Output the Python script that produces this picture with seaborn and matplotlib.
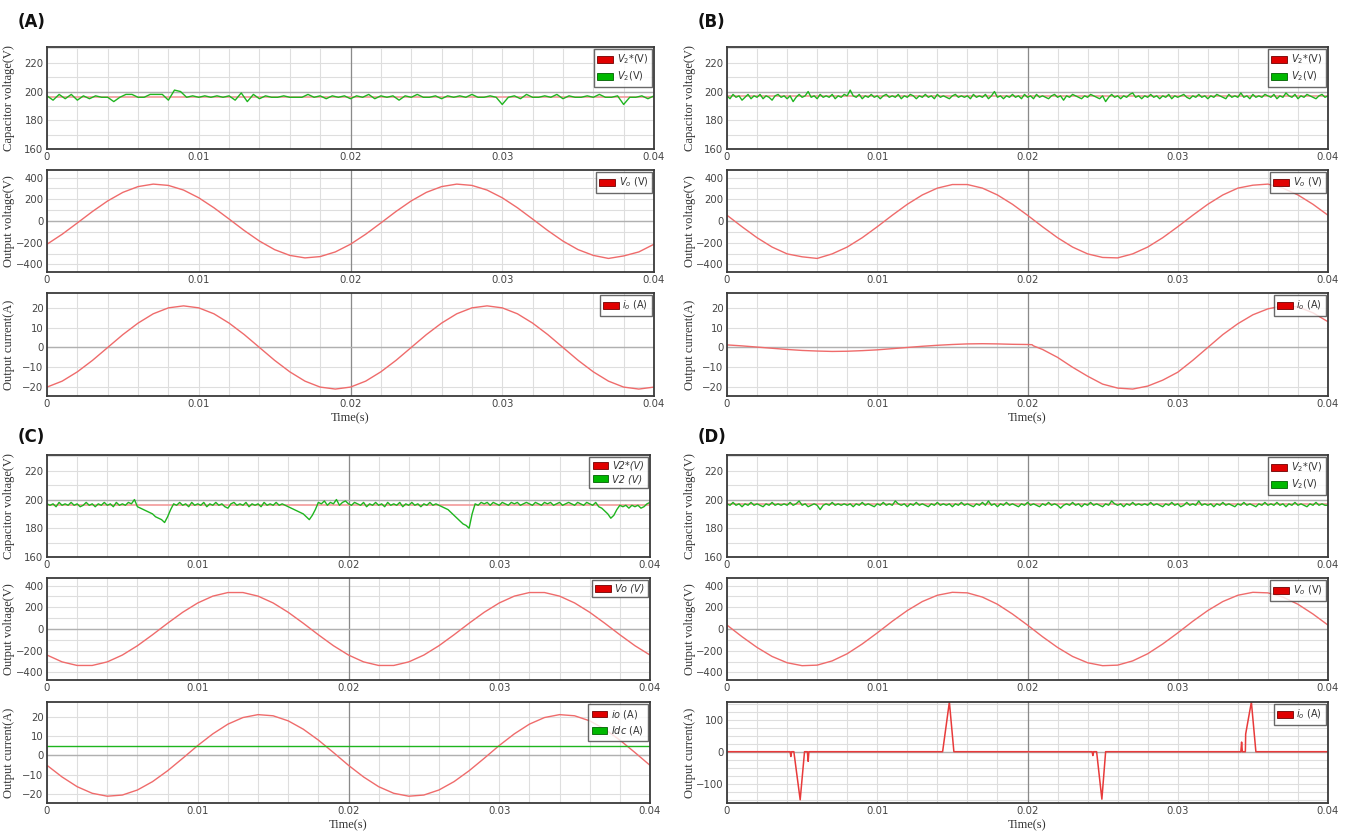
import numpy as np
import pandas as pd
import matplotlib
matplotlib.use("Agg")
import matplotlib.pyplot as plt
import seaborn as sns
from matplotlib.patches import Patch
from matplotlib.ticker import MultipleLocator

sns.set_theme(style="white")
plt.rcParams['font.family'] = ['DejaVu Sans']
plt.rcParams['axes.unicode_minus'] = True

# ---------------- data ----------------
# time grids (s)
T_1MS = np.linspace(0, 0.04, 41)      # 1 ms sampling
T_04MS = np.linspace(0, 0.04, 101)    # 0.4 ms sampling
T_02MS = np.linspace(0, 0.04, 201)    # 0.2 ms sampling
T_REF = [0.0, 0.04]

# (A)
A_V2_REF = [196, 196]
A_V2 = [197, 194, 198, 195, 198, 194, 197, 195, 197, 196,
        196, 193, 196, 198, 198, 196, 196, 198, 198, 198,
        194, 201, 200, 196, 197, 196, 197, 196, 197, 196,
        197, 194, 199, 193, 198, 195, 197, 196, 196, 197,
        196, 196, 196, 198, 196, 197, 195, 197, 196, 197,
        195, 197, 196, 198, 195, 197, 196, 197, 194, 197,
        196, 198, 196, 196, 197, 195, 197, 196, 197, 196,
        198, 196, 196, 197, 196, 191, 196, 197, 195, 198,
        196, 196, 197, 196, 198, 195, 197, 196, 196, 197,
        196, 198, 196, 196, 197, 191, 196, 196, 197, 195, 197]
A_VO = [-214, -122, -18, 88, 185, 264, 317, 340, 328, 285, 214, 122, 18, -88, -185, -264, -317, -340, -328, -285,
        -214, -122, -18, 88, 185, 264, 317, 340, 328, 285, 214, 122, 18, -88, -185, -264, -317, -345, -322, -285,
        -214]
A_IO = [-20.0, -17.0, -12.3, -6.5, 0.0, 6.5, 12.3, 17.0, 20.0, 21.0, 20.0, 17.0, 12.3, 6.5, 0.0, -6.5, -12.3, -17.0, -20.0, -21.0,
        -20.0, -17.0, -12.3, -6.5, 0.0, 6.5, 12.3, 17.0, 20.0, 21.0, 20.0, 17.0, 12.3, 6.5, 0.0, -6.5, -12.3, -17.0, -20.0, -21.0,
        -20.0]

# (B)
B_V2_REF = [197, 197]
B_V2 = [197, 195, 198, 196, 197, 194, 196, 198, 195, 197, 196, 198, 195, 197, 196, 194, 197, 198, 196, 197,
        195, 197, 193, 196, 198, 196, 197, 200, 196, 197, 195, 198, 196, 197, 196, 198, 195, 197, 196, 198,
        197, 201, 197, 196, 198, 195, 197, 196, 198, 196, 197, 195, 197, 198, 196, 197, 196, 198, 195, 197,
        196, 198, 197, 195, 197, 196, 198, 196, 197, 195, 198, 196, 197, 196, 195, 197, 198, 196, 197, 196,
        197, 195, 198, 196, 197, 196, 198, 195, 197, 200, 196, 197, 195, 197, 196, 198, 196, 197, 195, 198,
        196, 197, 195, 198, 196, 197, 196, 195, 197, 198, 196, 197, 194, 197, 196, 198, 197, 196, 195, 197,
        196, 198, 197, 196, 195, 197, 193, 196, 198, 196, 197, 195, 197, 196, 198, 199, 196, 197, 195, 197,
        196, 198, 196, 197, 195, 197, 196, 198, 195, 197, 196, 197, 198, 196, 195, 197, 196, 198, 196, 197,
        195, 197, 196, 198, 197, 196, 195, 198, 196, 197, 196, 199, 196, 197, 195, 198, 196, 197, 196, 198,
        197, 196, 198, 195, 197, 196, 199, 197, 196, 198, 195, 197, 196, 198, 197, 196, 195, 197, 198, 196,
        197]
B_VO = [53, -53, -154, -240, -303, -330, -345, -303, -240, -154, -53, 53, 154, 240, 303, 336, 336, 303, 240, 154,
        53, -53, -154, -240, -303, -336, -340, -303, -240, -154, -53, 53, 154, 240, 303, 330, 340, 303, 240, 154,
        53]
B_IO_T = [0.000, 0.001, 0.002, 0.003, 0.004, 0.005, 0.006, 0.007, 0.008, 0.009, 0.010,
          0.011, 0.012, 0.013, 0.014, 0.015, 0.016, 0.017, 0.018, 0.019, 0.020,
          0.0203, 0.0204,
          0.021, 0.022, 0.023, 0.024, 0.025, 0.026, 0.027, 0.028, 0.029, 0.030,
          0.031, 0.032, 0.033, 0.034, 0.035, 0.036, 0.037, 0.038, 0.039, 0.040]
B_IO = [1.3, 0.8, 0.2, -0.4, -1.0, -1.5, -1.8, -2.0, -1.9, -1.6, -1.2,
        -0.6, 0.0, 0.6, 1.1, 1.5, 1.8, 1.9, 1.8, 1.6, 1.5,
        1.4, 0.8,
        -1.0, -5.0, -10.0, -14.5, -18.5, -20.5, -21.0, -19.5, -16.5, -12.5,
        -6.5, 0.0, 6.5, 12.0, 16.5, 19.5, 21.0, 20.5, 17.5, 13.0]

# (C)
C_V2_REF = [196, 196]
C_V2 = [197, 196, 197, 195, 198, 196, 197, 196, 198, 196, 197, 195, 196, 198, 196, 197, 195, 197, 196, 198,
        196, 197, 195, 198, 196, 197, 196, 198, 197, 200, 195, 194, 193, 192, 191, 190, 188, 187, 186, 184,
        188, 193, 197, 196, 198, 196, 197, 195, 198, 196, 197, 196, 198, 195, 197, 196, 198, 196, 197, 195,
        194, 197, 198, 196, 197, 196, 198, 195, 197, 196, 197, 195, 198, 196, 197, 196, 198, 196, 197, 196,
        195, 194, 193, 192, 191, 190, 188, 186, 189, 193, 198, 197, 199, 196, 198, 197, 200, 196, 198, 199,
        197, 196, 198, 197, 196, 198, 195, 197, 196, 198, 196, 197, 195, 198, 196, 197, 196, 198, 195, 197,
        196, 198, 196, 197, 195, 197, 196, 198, 196, 197, 196, 195, 194, 193, 191, 189, 187, 185, 183, 182,
        180, 190, 197, 196, 198, 197, 198, 196, 198, 197, 196, 198, 197, 196, 198, 197, 198, 196, 197, 198,
        197, 196, 198, 197, 196, 198, 197, 198, 196, 197, 198, 196, 197, 198, 197, 196, 198, 197, 196, 198,
        197, 196, 198, 195, 194, 192, 190, 187, 189, 193, 196, 195, 196, 194, 196, 195, 196, 194, 195, 197,
        198]
C_VO = [-240, -303, -336, -336, -303, -240, -154, -53, 53, 154, 240, 303, 336, 336, 303, 240, 154, 53, -53, -154,
        -240, -303, -336, -336, -303, -240, -154, -53, 53, 154, 240, 303, 336, 336, 303, 240, 154, 53, -53, -154,
        -240]
C_IO = [-5.1, -11.1, -16.1, -19.5, -21.0, -20.4, -17.8, -13.5, -7.9, -1.5, 5.1, 11.1, 16.1, 19.5, 21.0, 20.4, 17.8, 13.5, 7.9, 1.5,
        -5.1, -11.1, -16.1, -19.5, -21.0, -20.4, -17.8, -13.5, -7.9, -1.5, 5.1, 11.1, 16.1, 19.5, 21.0, 20.4, 17.8, 13.5, 7.9, 1.5,
        -5.1]
C_IDC = [5.0, 5.0]

# (D)
D_V2_REF = [197, 197]
D_V2 = [197, 196, 198, 196, 197, 195, 197, 196, 198, 196, 197, 196, 195, 197, 196, 198, 196, 197, 196, 197,
        196, 198, 196, 197, 199, 196, 197, 195, 196, 197, 196, 193, 196, 197, 196, 198, 196, 197, 196, 197,
        196, 197, 195, 197, 196, 198, 196, 197, 196, 195, 197, 196, 198, 196, 197, 196, 199, 197, 196, 197,
        195, 197, 196, 198, 196, 197, 196, 195, 197, 196, 198, 196, 197, 196, 197, 195, 197, 196, 198, 196,
        197, 196, 195, 197, 196, 198, 196, 199, 196, 197, 195, 197, 196, 198, 196, 197, 196, 195, 197, 196,
        198, 196, 197, 196, 195, 197, 196, 198, 196, 197, 196, 194, 196, 197, 196, 198, 196, 197, 195, 197,
        196, 198, 196, 197, 196, 195, 197, 196, 199, 197, 196, 197, 195, 197, 196, 198, 196, 197, 196, 197,
        196, 198, 196, 197, 196, 195, 197, 196, 198, 196, 197, 195, 196, 198, 196, 197, 196, 199, 196, 197,
        196, 197, 195, 197, 196, 198, 196, 197, 196, 195, 197, 196, 198, 196, 197, 196, 195, 197, 196, 198,
        196, 197, 196, 198, 196, 197, 195, 197, 196, 198, 196, 197, 196, 195, 197, 196, 198, 196, 197, 196,
        196]
D_VO = [36, -71, -170, -253, -311, -338, -333, -294, -228, -138, -36, 71, 170, 253, 311, 338, 333, 294, 228, 138,
        36, -71, -170, -253, -311, -338, -333, -294, -228, -138, -36, 71, 170, 253, 311, 338, 333, 294, 228, 138,
        36]
D_IO_T = [0.0, 0.0042, 0.00425, 0.0043, 0.00445, 0.00487, 0.00516, 0.00535, 0.0054, 0.00545,
          0.01435, 0.0148, 0.0151,
          0.0243, 0.02435, 0.0244, 0.0246, 0.02495, 0.0252,
          0.0342, 0.03425, 0.0343, 0.0345, 0.03452, 0.0349, 0.0352, 0.04]
D_IO = [0, 0, -15, 0, 0, -150, 0, 0, -30, 0,
        0, 155, 0,
        0, -12, 0, 0, -148, 0,
        0, 30, 0, 0, 55, 155, 0, 0]

XTICKS = [0, 0.01, 0.02, 0.03, 0.04]
XTICK_LABELS = ["0", "0.01", "0.02", "0.03", "0.04"]

# ---------------- styling ----------------
W, H = 1346, 834
fig = plt.figure(figsize=(W / 100, H / 100), dpi=100)
fig.patch.set_facecolor("white")

RED_LINE = "#ef6b6b"
REF_LINE = "#f29a9a"
GREEN_LINE = "#1fb51f"
RED_PATCH = "#e00000"
GREEN_PATCH = "#00b800"
SERIF = ["Liberation Serif", "DejaVu Serif"]


def make_ax(x0, y0, x1, y1):
    return fig.add_axes([x0 / W, 1 - y1 / H, (x1 - x0) / W, (y1 - y0) / H])


def style(ax, ylim, yticks, yminor, ylabel, darky, xlabel=False):
    ax.set_facecolor("white")
    ax.set_xlim(0, 0.04)
    ax.set_ylim(*ylim)
    ax.set_xticks(XTICKS)
    ax.set_xticklabels(XTICK_LABELS)
    ax.set_yticks(yticks)
    ax.set_yticklabels([str(v).replace("-", "\u2212") for v in yticks])
    ax.xaxis.set_minor_locator(MultipleLocator(0.002))
    ax.yaxis.set_minor_locator(MultipleLocator(yminor))
    ax.grid(True, which="both", color="#dedede", linewidth=0.8)
    ax.axvline(0.02, color="#8a8a8a", linewidth=0.9, zorder=1)
    ax.axhline(darky, color="#b0b0b0", linewidth=1.0, zorder=1)
    ax.set_axisbelow(True)
    for s in ax.spines.values():
        s.set_color("#3a3a3a")
        s.set_linewidth(1.3)
    ax.tick_params(axis="both", which="both", length=0, labelsize=7.3,
                   colors="#444444", pad=2.5)
    ax.set_ylabel(ylabel, fontfamily=SERIF, fontsize=9, color="#333333")
    pos = ax.get_position()
    ax.yaxis.set_label_coords(-31.5 / (pos.width * W), 0.5)
    if xlabel:
        ax.set_xlabel("Time(s)", fontfamily=SERIF, fontsize=9, color="#333333", labelpad=2)


def legend(ax, labels, colors, italic=False):
    handles = [Patch(facecolor=c, edgecolor="#700000" if c == RED_PATCH else "#006000", linewidth=0.6)
               for c in colors]
    prop = {"size": 7}
    if italic:
        prop["style"] = "italic"
    lg = ax.legend(handles, labels, loc="upper right", prop=prop, frameon=True,
                   fancybox=False, borderaxespad=0.25, handlelength=1.6, handleheight=0.7,
                   handletextpad=0.4, borderpad=0.35, labelspacing=0.35)
    lg.get_frame().set_edgecolor("#444444")
    lg.get_frame().set_linewidth(1.0)
    for t in lg.get_texts():
        t.set_color("#333333")


def line(ax, x, y, color, lw=1.0):
    sns.lineplot(x=list(x), y=list(y), ax=ax, color=color, linewidth=lw,
                 estimator=None, sort=False, legend=False)


groups = [
    dict(tag="(A)", tx=18, ty=22, x0=47, x1=654, rows=[(47, 149), (170, 272), (293, 396)],
         v2_t=T_04MS, v2=A_V2, ref=A_V2_REF, vo=A_VO, io_t=T_1MS, io=A_IO, kind="A"),
    dict(tag="(B)", tx=698, ty=22, x0=727, x1=1328, rows=[(47, 149), (170, 272), (293, 396)],
         v2_t=T_02MS, v2=B_V2, ref=B_V2_REF, vo=B_VO, io_t=B_IO_T, io=B_IO, kind="B"),
    dict(tag="(C)", tx=18, ty=437, x0=47, x1=650, rows=[(455, 557), (578, 680), (702, 803)],
         v2_t=T_02MS, v2=C_V2, ref=C_V2_REF, vo=C_VO, io_t=T_1MS, io=C_IO, kind="C"),
    dict(tag="(D)", tx=698, ty=437, x0=727, x1=1328, rows=[(455, 557), (578, 680), (702, 803)],
         v2_t=T_02MS, v2=D_V2, ref=D_V2_REF, vo=D_VO, io_t=D_IO_T, io=D_IO, kind="D"),
]

for g in groups:
    fig.text(g["tx"] / W, 1 - g["ty"] / H, g["tag"], fontsize=12, fontweight="bold",
             ha="left", va="center", color="#111111")
    (r1, r2, r3) = g["rows"]
    k = g["kind"]

    # capacitor voltage
    ax1 = make_ax(g["x0"], r1[0], g["x1"], r1[1])
    line(ax1, T_REF, g["ref"], REF_LINE, 1.2)
    line(ax1, g["v2_t"], g["v2"], GREEN_LINE, 1.0)
    style(ax1, (160, 231), [160, 180, 200, 220], 10, "Capacitor voltage(V)", 200)
    if k == "C":
        legend(ax1, ["V2*(V)", "V2 (V)"], [RED_PATCH, GREEN_PATCH], italic=True)
    else:
        legend(ax1, ["$V_2$*(V)", "$V_2$(V)"], [RED_PATCH, GREEN_PATCH])

    # output voltage
    ax2 = make_ax(g["x0"], r2[0], g["x1"], r2[1])
    line(ax2, T_1MS, g["vo"], RED_LINE, 1.0)
    style(ax2, (-470, 470), [-400, -200, 0, 200, 400], 100, "Output voltage(V)", 0)
    if k == "C":
        legend(ax2, ["Vo (V)"], [RED_PATCH], italic=True)
    else:
        legend(ax2, ["$V_o$ (V)"], [RED_PATCH])

    # output current
    ax3 = make_ax(g["x0"], r3[0], g["x1"], r3[1])
    if k == "D":
        line(ax3, g["io_t"], g["io"], "#e83a3a", 1.1)
        style(ax3, (-160, 155), [-100, 0, 100], 25, "Output current(A)", 0, xlabel=True)
    else:
        line(ax3, g["io_t"], g["io"], RED_LINE, 1.0)
        if k == "C":
            line(ax3, T_REF, C_IDC, GREEN_LINE, 1.0)
        style(ax3, (-24.5, 27.5), [-20, -10, 0, 10, 20], 10, "Output current(A)", 0, xlabel=True)
    if k == "C":
        legend(ax3, ["$io$ (A)", "$Idc$ (A)"], [RED_PATCH, GREEN_PATCH])
    else:
        legend(ax3, ["$i_o$ (A)"], [RED_PATCH])

fig.savefig("out.png", dpi=100, facecolor="white")
